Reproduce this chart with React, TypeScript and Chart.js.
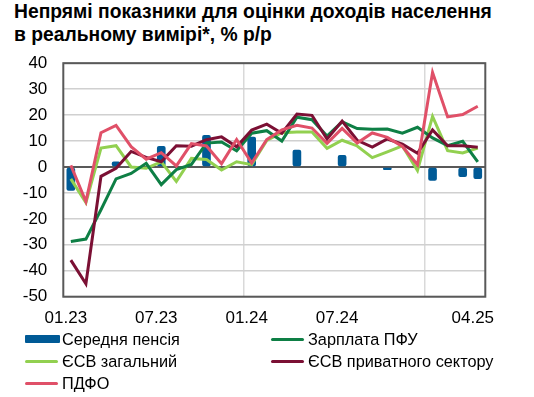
import React, { useEffect, useRef } from 'react';
import { Chart, registerables } from 'chart.js';

Chart.register(...registerables);

const months = [
  '01.23', '02.23', '03.23', '04.23', '05.23', '06.23', '07.23', '08.23', '09.23', '10.23', '11.23', '12.23',
  '01.24', '02.24', '03.24', '04.24', '05.24', '06.24', '07.24', '08.24', '09.24', '10.24', '11.24', '12.24',
  '01.25', '02.25', '03.25', '04.25',
];
const tickMonths = ['01.23', '07.23', '01.24', '07.24', '04.25'];

const pension = [-9, null, null, 2, null, null, 8, null, null, 12.2, null, null, 11.5, null, null, 6.5, null, null, 4.5, null, null, -1, null, null, -5.2, null, -3.7, -4.5];
const salaryPFU = [-28.7, -27.8, -16.5, -4.6, -2.5, 1.4, -6.8, -1, 1, 9.2, 9.6, 6.2, 13, 14, 10, 19.2, 18.2, 11.9, 17.4, 14.8, 14.5, 14.6, 13, 15.3, 11.2, 8.2, 9.9, 2];
const esvTotal = [-4.6, -13.7, 7.3, 8.2, 0, -0.5, 2, -5.6, 3.3, 2.9, -1.2, 2, 0.9, 10.2, 13.2, 13.5, 13.5, 7.2, 10.3, 8.1, 3.6, 5.8, 8.1, -1.4, 19.5, 6.3, 5.4, 7.3];
const esvPrivate = [-35.9, -45, -3.6, -0.5, 6, 3.7, 2, 8.2, 8, 10.5, 11.6, 7.8, 14.2, 16.5, 13, 20.4, 19.9, 10.8, 17.7, 10.3, 7.7, 10.8, 8.8, 5.3, 14.3, 8.2, 8.2, 7.6];
const pdfo = [0.6, -13.3, 13.2, 16, 7.8, 3, 5.5, 0.4, 9, 8.1, 1.3, 10.6, 1.5, 10.6, 14.3, 16.1, 15, 9.1, 14.9, 9.2, 13.1, 11.4, 7.9, 0.9, 36.4, 19.3, 20.2, 23.4];

const C_BAR = '#005A96';
const C_DGREEN = '#0E7F45';
const C_LGREEN = '#92D050';
const C_MAROON = '#7B1034';
const C_PINK = '#E05068';

const FONT = "'Liberation Sans', Arial, sans-serif";

const legendItems = [
  { label: 'Середня пенсія', color: C_BAR, bar: true, x: 25, row: 0 },
  { label: 'Зарплата ПФУ', color: C_DGREEN, bar: false, x: 271, row: 0 },
  { label: 'ЄСВ загальний', color: C_LGREEN, bar: false, x: 25, row: 1 },
  { label: 'ЄСВ приватного сектору', color: C_MAROON, bar: false, x: 271, row: 1 },
  { label: 'ПДФО', color: C_PINK, bar: false, x: 25, row: 2 },
];

const boxPlugin = {
  id: 'boxPlugin',
  afterDatasetsDraw(chart: any) {
    const { ctx, chartArea } = chart;
    ctx.save();
    ctx.strokeStyle = '#595959';
    ctx.lineWidth = 2;
    ctx.strokeRect(chartArea.left, chartArea.top, chartArea.right - chartArea.left, chartArea.bottom - chartArea.top);
    ctx.restore();
  },
};

export default function App() {
  const ref = useRef<HTMLCanvasElement>(null);

  useEffect(() => {
    if (!ref.current) return;
    const lineDs = (label: string, data: number[], color: string, order: number) => ({
      type: 'line' as const,
      label,
      data,
      borderColor: color,
      backgroundColor: color,
      borderWidth: 3,
      pointRadius: 0,
      tension: 0,
      order,
    });
    const chart = new Chart(ref.current, {
      type: 'bar',
      data: {
        labels: months,
        datasets: [
          {
            type: 'bar',
            label: 'Середня пенсія',
            data: pension,
            backgroundColor: C_BAR,
            barThickness: 8,
            borderRadius: 2,
            borderSkipped: false,
            order: 10,
          } as any,
          lineDs('ПДФО', pdfo, C_PINK, 1),
          lineDs('ЄСВ приватного сектору', esvPrivate, C_MAROON, 2),
          lineDs('Зарплата ПФУ', salaryPFU, C_DGREEN, 3),
          lineDs('ЄСВ загальний', esvTotal, C_LGREEN, 4),
        ],
      },
      options: {
        responsive: false,
        maintainAspectRatio: false,
        animation: false,
        layout: { padding: { top: 12, left: 0, right: 48.7, bottom: 13.3 } },
        plugins: { legend: { display: false }, tooltip: { enabled: false } },
        scales: {
          x: {
            offset: true,
            grid: {
              offset: true,
              drawTicks: false,
              color: (ctx: any) => (ctx.index === 12 || ctx.index === 24 ? '#D9D9D9' : 'transparent'),
              lineWidth: 1.5,
            },
            border: { display: false },
            ticks: {
              autoSkip: false,
              maxRotation: 0,
              minRotation: 0,
              padding: 11,
              labelOffset: -5,
              color: '#000',
              font: { family: FONT, size: 17 },
              callback: (_v: any, i: number) => (tickMonths.includes(months[i]) ? months[i] : ''),
            },
            afterFit: (s: any) => {
              s.height = 30;
            },
          },
          y: {
            min: -50,
            max: 40,
            ticks: {
              stepSize: 10,
              padding: 16,
              color: '#000',
              font: { family: FONT, size: 17 },
            },
            grid: {
              drawTicks: false,
              color: (ctx: any) => (ctx.tick && ctx.tick.value === 0 ? '#595959' : '#D0D0D0'),
              lineWidth: (ctx: any) => (ctx.tick && ctx.tick.value === 0 ? 2 : 1.5),
            },
            border: { display: false },
            afterFit: (s: any) => {
              s.width = 63.3;
            },
          },
        },
      } as any,
      plugins: [boxPlugin],
    });
    return () => chart.destroy();
  }, []);

  return (
    <div style={{ position: 'absolute', left: 0, top: 0, width: 534, height: 397, background: '#fff', fontFamily: FONT }}>
      <div
        style={{
          position: 'absolute',
          left: 14,
          top: 0,
          width: 520,
          fontWeight: 'bold',
          fontSize: 19.3,
          lineHeight: '23px',
          color: '#000',
          whiteSpace: 'nowrap',
        }}
      >
        Непрямі показники для оцінки доходів населення
        <br />
        в реальному вимірі*, % р/р
      </div>
      <canvas ref={ref} width={534} height={303} style={{ position: 'absolute', left: 0, top: 37, width: 534, height: 303 }} />
      {legendItems.map((it) => (
        <div
          key={it.label}
          style={{
            position: 'absolute',
            left: it.x,
            top: 328 + it.row * 22,
            height: 22,
            display: 'flex',
            alignItems: 'center',
            fontSize: 16.3,
            color: '#000',
            whiteSpace: 'nowrap',
          }}
        >
          {it.bar ? (
            <span style={{ display: 'inline-block', width: 35, height: 8, background: it.color, borderRadius: 1 }} />
          ) : (
            <span style={{ display: 'inline-block', width: 33, height: 3, background: it.color, borderRadius: 2, marginRight: 2 }} />
          )}
          <span style={{ marginLeft: 2 }}>{it.label}</span>
        </div>
      ))}
    </div>
  );
}
